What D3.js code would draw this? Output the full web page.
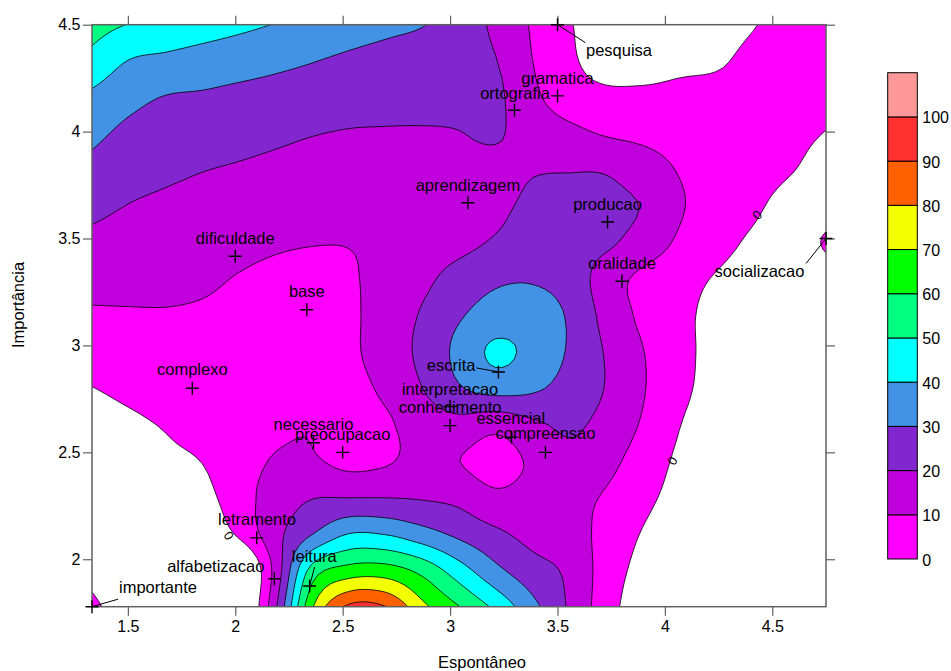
<!DOCTYPE html>
<html><head><meta charset="utf-8">
<script src="https://cdn.jsdelivr.net/npm/d3@7"></script>
<style>
body{margin:0;background:#fff}
svg{display:block}
text{font-family:"Liberation Sans",Arial,Helvetica,sans-serif;fill:#000}
</style>
</head><body>
<svg id="chart" width="951" height="671"></svg>
<script>
// ---------------- data ----------------
const xMin = 1.333, xMax = 4.75, yMin = 1.778, yMax = 4.5;
const xTicks = [1.5, 2, 2.5, 3, 3.5, 4, 4.5];
const yTicks = [2, 2.5, 3, 3.5, 4, 4.5];
const levels = [0, 10, 20, 30, 40, 50, 60, 70, 80, 90, 100];
const levelColors = ["#ff00ff","#c000dc","#8226d0","#4292e6","#00ffff","#00ff80","#00ff00","#f3ff00","#ff6000","#ff3030","#ff9999"];

const words = ["pesquisa","gramatica","ortografia","aprendizagem","producao","oralidade","dificuldade","base","socializacao","complexo","escrita","interpretacao","conhecimento","essencial","compreensao","necessario","preocupacao","letramento","alfabetizacao","leitura","importante"];
const wordX = [3.5, 3.5, 3.3, 3.083, 3.733, 3.8, 2.0, 2.333, 4.75, 1.8, 3.225, 3.0, 3.0, 3.286, 3.444, 2.364, 2.5, 2.1, 2.182, 2.346, 1.333];
const wordY = [4.5, 4.167, 4.1, 3.667, 3.577, 3.3, 3.417, 3.167, 3.5, 2.8, 2.876, 2.714, 2.625, 2.571, 2.5, 2.545, 2.5, 2.1, 1.909, 1.875, 1.778];

// surface values: 17 rows (top y=4.5 -> bottom y=1.778) x 21 columns (x=1.333 -> 4.75)
const zRows = [
 [54, 49.7, 47.2, 44.7, 42.2, 39.7, 37.4, 35.1, 32.8, 30.5, 25, 18.1, 9, 0.7, -4, -6, -6, -4, -0.5, 3, 4],
 [46.9, 39.7, 37.8, 35.9, 34.1, 32.2, 30.3, 28.2, 26.2, 24.1, 22, 20.3, 10.1, 1.8, -4, -6, -3, -1.2, 2, 3, 3],
 [38, 32.9, 29.6, 28.8, 27.5, 26.4, 25.3, 24.1, 23.1, 22.7, 21.5, 21.8, 12.2, 5, 2.5, 3, 3.5, 3, 3, 2.5, 1.5],
 [32.3, 27.7, 25.7, 24.5, 23.1, 21.7, 20.3, 19.4, 19.3, 19.3, 19.8, 20.8, 16.3, 12.7, 9.3, 7.8, 6.2, 4.7, 3.1, 1.6, -0.2],
 [27.2, 23.6, 21.7, 20.2, 19.1, 17.9, 16.9, 16.4, 17, 17.5, 17.5, 18, 19.5, 19.7, 19.3, 15, 9.5, 6.5, 3.5, 0.5, -2.5],
 [22.3, 19.7, 18.3, 17.3, 15.9, 14.5, 13.6, 13.3, 15, 16.5, 17.5, 18.5, 21.5, 22, 22, 19.5, 11, 6.3, 1.7, -3, -4],
 [17.7, 16.2, 15.3, 14.5, 12.7, 11.1, 10.3, 10.3, 12, 15, 17.5, 21, 24, 23.5, 21.5, 15.9, 8.5, 3.3, -1.5, -5, 1],
 [13.2, 12.7, 12.3, 11.4, 9.5, 8, 7.5, 9, 13.1, 17.7, 24, 28.5, 29.3, 26, 15.2, 7.7, 3.5, -0.7, -4, -6, -5],
 [8.7, 9.1, 9.3, 8.9, 8, 7, 6.5, 8.5, 14, 21, 29, 34, 34, 29, 16.9, 8.1, 2.4, -2.5, -5, -7, -7],
 [4.3, 5.5, 6.3, 6.7, 6.5, 6, 6, 8.5, 14, 22.5, 32.6, 41.8, 37, 29, 19.3, 10.4, 3, -3, -6, -8, -8],
 [-0.2, 1.8, 3.2, 4.6, 5.2, 5.5, 6, 7.5, 11.7, 19.9, 29, 33.5, 31.5, 26.2, 19.6, 10.8, 2.3, -3, -6, -8, -8],
 [-3.5, -1.5, 0.5, 2.5, 4, 8, 9.5, 7, 8.7, 14.5, 16.5, 13, 18, 21.5, 16.9, 9, 0.3, -4, -7, -8, -8],
 [-6, -4, -2, 0.2, 5.6, 10.8, 11, 7.5, 9, 13, 10.1, 6.5, 11.5, 17.5, 13, 5.6, -1.5, -5, -7, -8, -8],
 [-9, -10, -8, -3.4, 5.6, 14.5, 19.6, 19.9, 19.9, 19.2, 17.5, 12, 13.5, 13, 9, 2.5, -3, -6, -8, -8, -8],
 [-8, -10, -9, -8, 1.6, 16.8, 29.7, 40.2, 39.5, 34, 27.8, 22, 17, 14.5, 6.8, -0.5, -5, -7, -8, -8, -8],
 [-3, -7, -9, -12, -15, 13.5, 54, 64, 64.5, 57, 44.5, 32.5, 24, 18, 5.7, -3, -6, -8, -8, -8, -8],
 [2, -5, -8, -12, -15, 18.3, 69, 92, 90.3, 72.7, 60.3, 47.7, 33, 18.8, 4.7, -6, -7, -8, -8, -8, -8]
];

// ---------------- layout ----------------
const plot = {left: 92, right: 826, top: 24.7, bottom: 606.7};
const FS = 16.5;
const labelLayout = {
  pesquisa:      {dx: 61.5, dy: 27,   lead: [28, 18]},
  socializacao:  {dx: -66.5, dy: 33.7, lead: [-20, 25]},
  escrita:       {dx: -47.3, dy: -5,  lead: [-22, -4]},
  alfabetizacao: {dx: -58.6, dy: -11},
  leitura:       {dx: 4.7, dy: -28.7, lead: [5, -19]},
  importante:    {dx: 66, dy: -18.4,  lead: [26, -7.5]},
  ortografia:    {dx: 0.5, dy: -16},
  interpretacao: {dx: 0, dy: -15.6},
  base:          {dx: 0, dy: -17.4},
  complexo:      {dx: 0, dy: -17.3},
  conhecimento:  {dx: 0, dy: -17.4},
  essencial:     {dx: -0.7, dy: -17.3},
  compreensao:   {dx: 0, dy: -17.3},
  letramento:    {dx: 0.3, dy: -17.3}
};
const zeroLabels = [ // contour labels "0" placed on the zero line
  {x: 4.43, y: 3.61, a: -49},
  {x: 4.035, y: 2.46, a: -60},
  {x: 1.97, y: 2.11, a: 56}
];

const svg = d3.select("#chart");
const x = d3.scaleLinear().domain([xMin, xMax]).range([plot.left, plot.right]);
const y = d3.scaleLinear().domain([yMin, yMax]).range([plot.bottom, plot.top]);

// ---------- smooth resampling of the grid for drawing (Catmull-Rom) ----------
const nx = zRows[0].length, ny = zRows.length, F = 6;
const NX = (nx - 1) * F + 1, NY = (ny - 1) * F + 1;
function g(i, j) {
  if (i < 0) return 2 * g(0, j) - g(1, j);
  if (i > nx - 1) return 2 * g(nx - 1, j) - g(nx - 2, j);
  if (j < 0) return 2 * g(i, 0) - g(i, 1);
  if (j > ny - 1) return 2 * g(i, ny - 1) - g(i, ny - 2);
  return zRows[j][i];
}
function cr(p0, p1, p2, p3, t) {
  return 0.5 * (2 * p1 + (-p0 + p2) * t + (2 * p0 - 5 * p1 + 4 * p2 - p3) * t * t + (-p0 + 3 * p1 - 3 * p2 + p3) * t * t * t);
}
const fine = new Float64Array(NX * NY);
for (let jj = 0; jj < NY; jj++) {
  let j0 = Math.min(Math.floor(jj / F), ny - 2), u = jj / F - j0;
  for (let ii = 0; ii < NX; ii++) {
    let i0 = Math.min(Math.floor(ii / F), nx - 2), t = ii / F - i0;
    const r = [-1, 0, 1, 2].map(m => cr(g(i0 - 1, j0 + m), g(i0, j0 + m), g(i0 + 1, j0 + m), g(i0 + 2, j0 + m), t));
    fine[jj * NX + ii] = cr(r[0], r[1], r[2], r[3], u);
  }
}
const gx = d3.scaleLinear().domain([0.5, NX - 0.5]).range([x(xMin), x(xMax)]);
const gy = d3.scaleLinear().domain([0.5, NY - 0.5]).range([y(yMax), y(yMin)]);
const path = d3.geoPath(d3.geoTransform({point(px, py) { this.stream.point(gx(px), gy(py)); }}));

svg.append("clipPath").attr("id", "clip").append("rect")
  .attr("x", plot.left).attr("y", plot.top)
  .attr("width", plot.right - plot.left).attr("height", plot.bottom - plot.top);

const cg = svg.append("g").attr("clip-path", "url(#clip)");
const contours = d3.contours().size([NX, NY]);
levels.forEach((lv, k) => {
  cg.append("path")
    .attr("d", path(contours.contour(fine, lv)))
    .attr("fill", levelColors[k])
    .attr("stroke", "#000").attr("stroke-width", 0.8).attr("stroke-linejoin", "round");
});

// ---------- axes ----------
const axisColor = "#606060";
function styleAxis(sel) {
  sel.selectAll("path.domain").remove();
  sel.selectAll("line").attr("stroke", axisColor).attr("stroke-width", 1.2);
  sel.selectAll("text").attr("font-size", 16).attr("fill", "#000")
    .style("font-family", '"Liberation Sans",Arial,sans-serif');
}
svg.append("g").attr("transform", `translate(0,${plot.bottom})`)
  .call(d3.axisBottom(x).tickValues(xTicks).tickSize(9).tickPadding(4.5).tickSizeOuter(0).tickFormat(d => String(d)))
  .call(styleAxis);
svg.append("g").attr("transform", `translate(0,${plot.top})`)
  .call(d3.axisTop(x).tickValues(xTicks).tickSize(9).tickSizeOuter(0).tickFormat(""))
  .call(styleAxis);
svg.append("g").attr("transform", `translate(${plot.left},0)`)
  .call(d3.axisLeft(y).tickValues(yTicks).tickSize(9).tickPadding(2.5).tickSizeOuter(0).tickFormat(d => String(d)))
  .call(styleAxis);
svg.append("g").attr("transform", `translate(${plot.right},0)`)
  .call(d3.axisRight(y).tickValues(yTicks).tickSize(9).tickSizeOuter(0).tickFormat(""))
  .call(styleAxis);

svg.append("rect")
  .attr("x", plot.left).attr("y", plot.top)
  .attr("width", plot.right - plot.left).attr("height", plot.bottom - plot.top)
  .attr("fill", "none").attr("stroke", axisColor).attr("stroke-width", 1.5);

// axis titles
svg.append("text").attr("x", 482).attr("y", 668).attr("text-anchor", "middle")
  .attr("font-size", FS).text("Espontâneo");
svg.append("text").attr("transform", "translate(24,305) rotate(-90)").attr("text-anchor", "middle")
  .attr("font-size", FS).text("Importância");

// ---------- zero labels ----------
zeroLabels.forEach(z => {
  svg.append("text")
    .attr("transform", `translate(${x(z.x)},${y(z.y)}) rotate(${z.a})`)
    .attr("text-anchor", "middle").attr("dy", "0.35em")
    .attr("font-size", 13).text("0");
});

// ---------- points and labels ----------
const pg = svg.append("g");
words.forEach((w, i) => {
  const cx = x(wordX[i]), cy = y(wordY[i]);
  const L = labelLayout[w] || {dx: 0, dy: -16.7};
  if (L.lead) {
    pg.append("line").attr("x1", cx).attr("y1", cy)
      .attr("x2", cx + L.lead[0]).attr("y2", cy + L.lead[1])
      .attr("stroke", "#000").attr("stroke-width", 1);
  }
  pg.append("path").attr("d", `M${cx - 6.5},${cy}H${cx + 6.5}M${cx},${cy - 6.5}V${cy + 6.5}`)
    .attr("stroke", "#000").attr("stroke-width", 1.4);
  pg.append("text").attr("x", cx + L.dx).attr("y", cy + L.dy + 4.4)
    .attr("text-anchor", "middle").attr("font-size", FS).text(w);
});

// ---------- colour bar ----------
const cbX = 887.7, cbW = 29.6;
const cb = d3.scaleLinear().domain([0, 110]).range([559, 72.7]);
const cbg = svg.append("g");
levels.forEach((lv, k) => {
  cbg.append("rect").attr("x", cbX).attr("y", cb(lv + 10)).attr("width", cbW)
    .attr("height", cb(lv) - cb(lv + 10)).attr("fill", levelColors[k])
    .attr("stroke", "#000").attr("stroke-width", 1);
  cbg.append("text").attr("x", cbX + cbW + 5).attr("y", cb(lv) + 6.5)
    .attr("font-size", 16).text(lv);
});
</script>
</body></html>
